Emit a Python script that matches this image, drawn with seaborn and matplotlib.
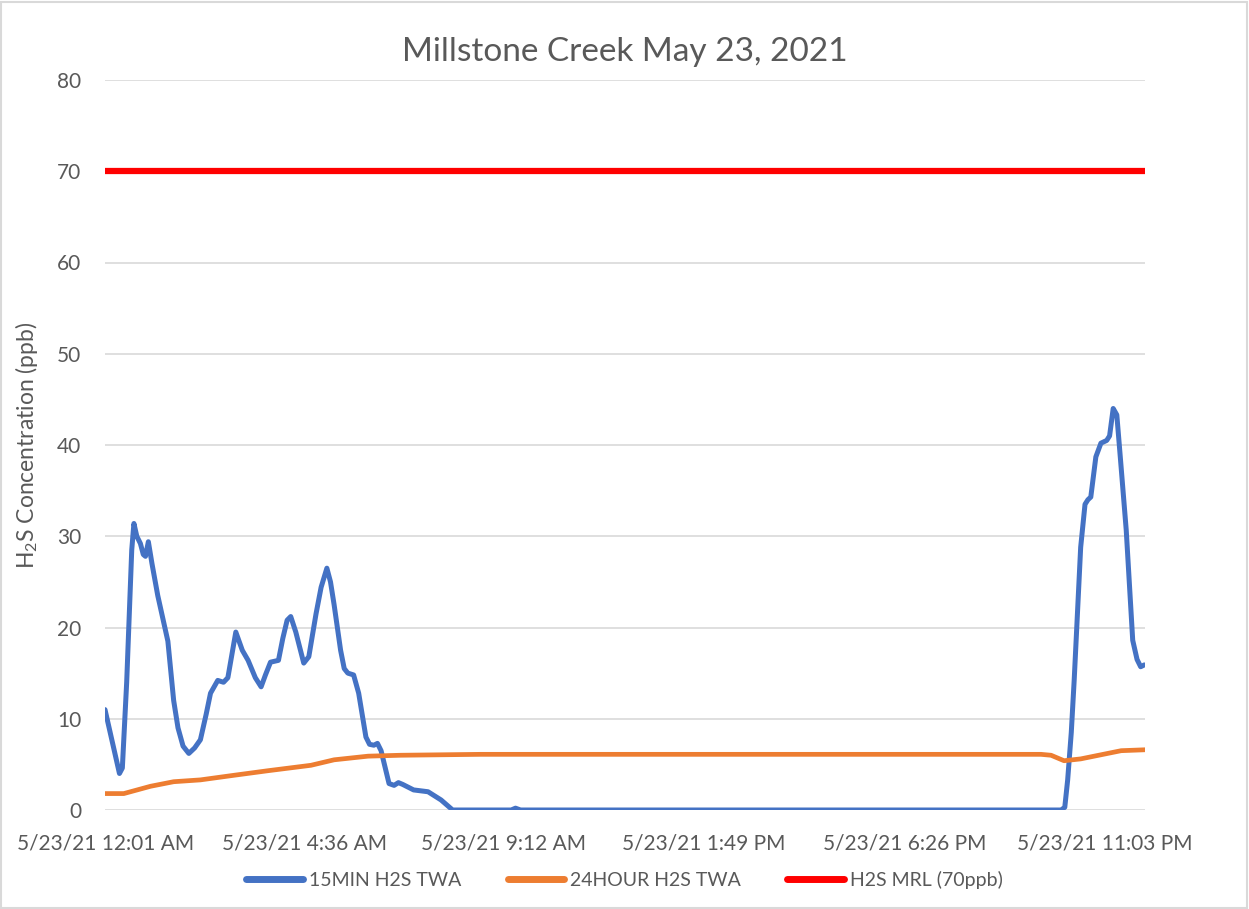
import pandas as pd
import matplotlib.pyplot as plt
from matplotlib.patches import Rectangle
import seaborn as sns

DAY = "2021-05-23"

# 15 minute time weighted average
min15_times = ["00:00", "00:10", "00:20", "00:24", "00:30", "00:37", "00:40", "00:44",
               "00:49", "00:53", "00:56", "01:00", "01:05", "01:13", "01:27",
               "01:35", "01:41", "01:48", "01:56", "02:04", "02:12", "02:20", "02:26",
               "02:36", "02:44", "02:50", "03:01", "03:10", "03:18", "03:28",
               "03:36", "03:42", "03:49", "04:00", "04:06", "04:12", "04:17", "04:24",
               "04:35", "04:42", "04:52", "04:59", "05:07", "05:12", "05:17", "05:26",
               "05:31", "05:36", "05:44", "05:51", "06:01", "06:06", "06:12", "06:17",
               "06:22", "06:33", "06:40", "06:46", "06:52", "07:07", "07:27", "07:45",
               "08:01", "09:22", "09:28", "09:35", "22:03", "22:08", "22:12", "22:17",
               "22:21", "22:30", "22:36", "22:40", "22:44", "22:51", "22:58", "23:06",
               "23:10", "23:15", "23:20", "23:25", "23:33", "23:42", "23:48", "23:53",
               "23:58"]
min15_vals = [11.0, 7.5, 4.0, 4.6, 14.0, 28.5, 31.4, 30.0,
              29.2, 28.0, 27.8, 29.4, 27.0, 23.5, 18.5,
              12.0, 9.0, 7.0, 6.2, 6.8, 7.7, 10.5, 12.8,
              14.2, 14.0, 14.5, 19.5, 17.5, 16.4, 14.5,
              13.5, 14.8, 16.2, 16.4, 18.8, 20.8, 21.2, 19.5,
              16.1, 16.8, 21.5, 24.4, 26.5, 25.0, 22.5, 17.5,
              15.5, 15.0, 14.8, 12.8, 8.0, 7.2, 7.1, 7.3,
              6.5, 2.9, 2.7, 3.0, 2.8, 2.2, 2.0, 1.1,
              0.0, 0.0, 0.2, 0.0, 0.0, 0.3, 3.3, 8.5,
              14.2, 28.8, 33.5, 34.0, 34.3, 38.7, 40.2, 40.5,
              41.0, 44.0, 43.3, 38.5, 30.7, 18.6, 16.5, 15.7,
              15.9]

# 24 hour time weighted average
hr24_times = ["00:00", "00:26", "01:03", "01:35", "02:12", "02:58", "03:45", "04:45",
              "05:17", "06:04", "06:49", "08:40", "21:35", "21:49", "22:07", "22:30",
              "23:26", "23:59"]
hr24_vals = [1.8, 1.8, 2.6, 3.1, 3.3, 3.8, 4.3, 4.9,
             5.5, 5.9, 6.0, 6.1, 6.1, 6.0, 5.4, 5.6,
             6.5, 6.6]

# minimal risk level
mrl_times = ["00:00", "23:59"]
mrl_vals = [70, 70]

tick_times = ["00:01", "04:36", "09:12", "13:49", "18:26", "23:03"]
tick_labels = ["5/23/21 12:01 AM", "5/23/21 4:36 AM", "5/23/21 9:12 AM",
               "5/23/21 1:49 PM", "5/23/21 6:26 PM", "5/23/21 11:03 PM"]


def to_dt(times):
    return pd.to_datetime([f"{DAY} {t}" for t in times])


df15 = pd.DataFrame({"time": to_dt(min15_times), "ppb": min15_vals})
df24 = pd.DataFrame({"time": to_dt(hr24_times), "ppb": hr24_vals})
dfm = pd.DataFrame({"time": to_dt(mrl_times), "ppb": mrl_vals})

sns.set_style("white")
plt.rcParams["font.family"] = ["Lato", "DejaVu Sans"]
plt.rcParams["mathtext.default"] = "regular"
txt = "#595959"

fig = plt.figure(figsize=(12.49, 9.09), dpi=100)
fig.patches.append(Rectangle((0.001, 0.001), 0.997, 0.997, transform=fig.transFigure,
                             fill=False, edgecolor="#D9D9D9", linewidth=1.5))
ax = fig.add_axes([105 / 1249, 1 - 810 / 909, 1040 / 1249, 730 / 909])

sns.lineplot(data=df15, x="time", y="ppb", ax=ax, color="#4472C4", linewidth=3.6,
             label="15MIN H2S TWA", solid_joinstyle="round", solid_capstyle="round")
sns.lineplot(data=df24, x="time", y="ppb", ax=ax, color="#ED7D31", linewidth=3.4,
             label="24HOUR H2S TWA", solid_joinstyle="round")
sns.lineplot(data=dfm, x="time", y="ppb", ax=ax, color="#FF0000", linewidth=4.5,
             label="H2S MRL (70ppb)")

ax.set_xlim(pd.Timestamp(f"{DAY} 00:00"), pd.Timestamp(f"{DAY} 23:59"))
ax.set_ylim(0, 80)
ax.set_yticks(range(0, 81, 10))
ax.set_xticks(to_dt(tick_times))
ax.set_xticklabels(tick_labels)
ax.grid(axis="y", color="#D9D9D9", linewidth=1.2)
ax.set_axisbelow(True)
for s in ax.spines.values():
    s.set_visible(False)
ax.tick_params(axis="both", length=0, labelsize=15, labelcolor=txt)
ax.tick_params(axis="x", pad=17)
ax.tick_params(axis="y", pad=17)

ax.set_xlabel("")
ax.set_ylabel("H$_2$S Concentration (ppb)", fontsize=16.5, color=txt, labelpad=12)
ax.set_title("Millstone Creek May 23, 2021", fontsize=24, color=txt, pad=14)

leg = ax.legend(loc="center", bbox_to_anchor=(0.5, 0.032), bbox_transform=fig.transFigure,
                ncol=3, frameon=False, fontsize=14, labelcolor=txt, handlelength=2.9,
                columnspacing=2.4, handletextpad=0.3)
for h in leg.get_lines():
    h.set_linewidth(5)
    h.set_solid_capstyle("round")

fig.savefig("out.png", dpi=100)
